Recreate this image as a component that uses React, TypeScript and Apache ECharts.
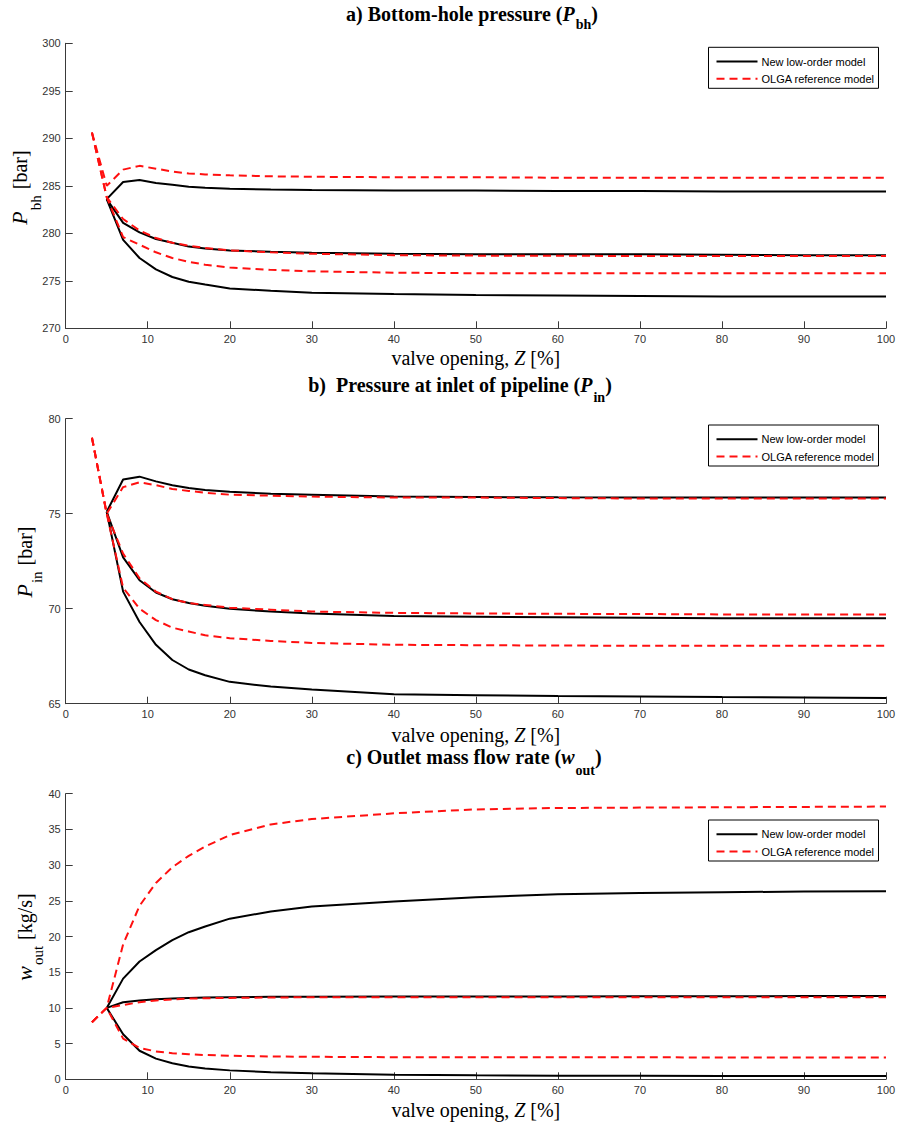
import React, { useEffect, useRef } from "react";
import * as echarts from "echarts";

// ---------- data ----------
const X_BLACK = [5, 7, 9, 11, 13, 15, 17, 20, 25, 30, 40, 50, 60, 70, 80, 90, 100];
const X_RED = [3.2, 5, 7, 9, 11, 13, 15, 17, 20, 25, 30, 40, 50, 60, 70, 80, 90, 100];

// a) bottom-hole pressure [bar]
const PBH_NEW_HIGH = [283.6, 285.4, 285.6, 285.3, 285.1, 284.9, 284.8, 284.7, 284.6, 284.55, 284.5, 284.5, 284.45, 284.45, 284.4, 284.4, 284.4];
const PBH_NEW_MID = [283.6, 281.1, 280.1, 279.4, 279.0, 278.6, 278.4, 278.2, 278.05, 277.95, 277.85, 277.8, 277.8, 277.8, 277.75, 277.7, 277.7];
const PBH_NEW_LOW = [283.6, 279.3, 277.4, 276.2, 275.4, 274.9, 274.6, 274.2, 273.95, 273.75, 273.6, 273.5, 273.45, 273.4, 273.35, 273.35, 273.35];
const PBH_OLGA_HIGH = [290.6, 285.0, 286.7, 287.1, 286.8, 286.5, 286.3, 286.2, 286.1, 286.0, 285.95, 285.9, 285.9, 285.85, 285.85, 285.85, 285.85, 285.85];
const PBH_OLGA_MID = [290.6, 283.8, 281.5, 280.3, 279.5, 279.0, 278.7, 278.45, 278.2, 278.0, 277.85, 277.7, 277.65, 277.65, 277.6, 277.6, 277.6, 277.6];
const PBH_OLGA_LOW = [290.6, 283.8, 279.6, 278.8, 278.0, 277.4, 277.0, 276.7, 276.4, 276.15, 276.0, 275.85, 275.8, 275.8, 275.8, 275.8, 275.8, 275.8];

// b) pressure at inlet of pipeline [bar]
const PIN_NEW_HIGH = [75.1, 76.8, 76.95, 76.7, 76.5, 76.35, 76.25, 76.15, 76.05, 76.0, 75.9, 75.88, 75.86, 75.85, 75.85, 75.85, 75.85];
const PIN_NEW_MID = [75.1, 72.7, 71.5, 70.85, 70.5, 70.3, 70.15, 70.0, 69.85, 69.75, 69.62, 69.58, 69.55, 69.52, 69.5, 69.5, 69.5];
const PIN_NEW_LOW = [75.1, 70.9, 69.3, 68.1, 67.3, 66.8, 66.5, 66.15, 65.9, 65.75, 65.5, 65.45, 65.4, 65.38, 65.35, 65.33, 65.3];
const PIN_OLGA_HIGH = [79.0, 75.0, 76.4, 76.65, 76.5, 76.3, 76.2, 76.1, 76.0, 75.95, 75.9, 75.85, 75.85, 75.82, 75.8, 75.8, 75.8, 75.8];
const PIN_OLGA_MID = [79.0, 75.0, 72.9, 71.6, 70.9, 70.5, 70.3, 70.2, 70.05, 69.95, 69.85, 69.78, 69.75, 69.73, 69.72, 69.7, 69.7, 69.7];
const PIN_OLGA_LOW = [79.0, 75.0, 71.1, 70.0, 69.4, 69.0, 68.8, 68.6, 68.45, 68.3, 68.2, 68.1, 68.08, 68.06, 68.05, 68.05, 68.05, 68.05];

// c) outlet mass flow rate [kg/s]
const WOUT_NEW_HIGH = [10.0, 14.1, 16.5, 18.1, 19.5, 20.6, 21.4, 22.5, 23.5, 24.2, 24.9, 25.5, 25.9, 26.1, 26.2, 26.3, 26.35];
const WOUT_NEW_MID = [10.0, 10.8, 11.05, 11.2, 11.3, 11.4, 11.45, 11.5, 11.55, 11.55, 11.6, 11.6, 11.6, 11.62, 11.63, 11.65, 11.65];
const WOUT_NEW_LOW = [10.0, 6.3, 4.0, 2.9, 2.25, 1.8, 1.5, 1.25, 1.0, 0.85, 0.65, 0.55, 0.5, 0.5, 0.45, 0.45, 0.45];
const WOUT_OLGA_HIGH = [8.0, 10.0, 18.9, 24.3, 27.5, 29.7, 31.3, 32.6, 34.2, 35.7, 36.45, 37.25, 37.8, 38.0, 38.05, 38.1, 38.15, 38.2];
const WOUT_OLGA_MID = [8.0, 10.0, 10.4, 10.8, 11.05, 11.2, 11.3, 11.35, 11.4, 11.45, 11.5, 11.5, 11.5, 11.5, 11.5, 11.5, 11.5, 11.5];
const WOUT_OLGA_LOW = [8.0, 10.0, 5.7, 4.4, 3.9, 3.65, 3.5, 3.4, 3.3, 3.2, 3.15, 3.1, 3.1, 3.1, 3.08, 3.06, 3.05, 3.05];

const X_TICKS = { min: 0, max: 100, interval: 10 };
const Y_AXES = [
  { min: 270, max: 300, interval: 5 },
  { min: 65, max: 80, interval: 5 },
  { min: 0, max: 40, interval: 5 },
];
const LEGEND_NAMES = ["New low-order model", "OLGA reference model"];

// ---------- layout / style ----------
const SERIF = "'Liberation Serif', 'Times New Roman', serif";
const SANS = "'Liberation Sans', Arial, sans-serif";
const GRIDS = [
  { left: 65.7, top: 43.3, width: 820.3, height: 285 },
  { left: 65.7, top: 418.7, width: 820.3, height: 285 },
  { left: 65.7, top: 793.7, width: 820.3, height: 285.6 },
];
const AXIS_COLOR = "#3a3a3a";
const RED = "#ff1010";

const F_B = `bold 20px ${SERIF}`;
const F_BI = `italic bold 20px ${SERIF}`;
const F_BS = `bold 14px ${SERIF}`;
const F_R = `20px ${SERIF}`;
const F_I = `italic 20px ${SERIF}`;
const F_YP = `italic 22px ${SERIF}`;
const F_YS = `15px ${SERIF}`;

const zip = (xs: number[], ys: number[]) => xs.map((x, i) => [x, ys[i]]);

type Piece = { text: string; font: string; dy?: number; gap?: number };

let measureCtx: CanvasRenderingContext2D | null = null;
function measure(text: string, font: string) {
  if (!measureCtx) measureCtx = document.createElement("canvas").getContext("2d");
  if (!measureCtx) return text.length * 10;
  measureCtx.font = font;
  return measureCtx.measureText(text).width;
}

function composed(pieces: Piece[], x: number, y: number, rotation = 0) {
  const widths = pieces.map((p) => measure(p.text, p.font));
  const total = pieces.reduce((s, p, i) => s + (p.gap || 0) + widths[i], 0);
  let cx = -total / 2;
  const children = pieces.map((p, i) => {
    cx += p.gap || 0;
    const el = {
      type: "text",
      x: cx,
      y: p.dy || 0,
      style: { text: p.text, font: p.font, fill: "#000", align: "left", verticalAlign: "middle" },
    };
    cx += widths[i];
    return el;
  });
  return { type: "group", x, y, rotation, children };
}

function App() {
  const ref = useRef<HTMLDivElement>(null);
  useEffect(() => {
    if (!ref.current) return;
    const chart = echarts.init(ref.current, null, { renderer: "svg" });

    const sets = [
      { black: [PBH_NEW_HIGH, PBH_NEW_MID, PBH_NEW_LOW], red: [PBH_OLGA_HIGH, PBH_OLGA_MID, PBH_OLGA_LOW] },
      { black: [PIN_NEW_HIGH, PIN_NEW_MID, PIN_NEW_LOW], red: [PIN_OLGA_HIGH, PIN_OLGA_MID, PIN_OLGA_LOW] },
      { black: [WOUT_NEW_HIGH, WOUT_NEW_MID, WOUT_NEW_LOW], red: [WOUT_OLGA_HIGH, WOUT_OLGA_MID, WOUT_OLGA_LOW] },
    ];

    const series: any[] = [];
    sets.forEach((s, gi) => {
      s.black.forEach((ys) =>
        series.push({
          type: "line",
          xAxisIndex: gi,
          yAxisIndex: gi,
          data: zip(X_BLACK, ys),
          showSymbol: false,
          symbol: "none",
          lineStyle: { color: "#000", width: 2 },
          z: 2,
        })
      );
      s.red.forEach((ys) =>
        series.push({
          type: "line",
          xAxisIndex: gi,
          yAxisIndex: gi,
          data: zip(X_RED, ys),
          showSymbol: false,
          symbol: "none",
          lineStyle: { color: RED, width: 2, type: [8, 5] },
          z: 3,
        })
      );
    });

    const axisCommon = {
      axisLine: { show: true, lineStyle: { color: AXIS_COLOR, width: 1 } },
      axisTick: { show: true, inside: true, length: 7, lineStyle: { color: AXIS_COLOR, width: 1 } },
      splitLine: { show: false },
    };

    const xAxis = GRIDS.map((_, i) => ({
      type: "value",
      gridIndex: i,
      ...X_TICKS,
      ...axisCommon,
      axisLabel: { fontFamily: SANS, fontSize: 11, color: "#333", margin: 5 },
    }));
    const yAxis = GRIDS.map((_, i) => ({
      type: "value",
      gridIndex: i,
      ...Y_AXES[i],
      ...axisCommon,
      axisLabel: { fontFamily: SANS, fontSize: 11, color: "#333", margin: 5 },
    }));

    const graphic: any[] = [];

    // titles
    graphic.push(
      composed(
        [
          { text: "a) Bottom-hole pressure (", font: F_B },
          { text: "P", font: F_BI },
          { text: "bh", font: F_BS, dy: 11, gap: 1 },
          { text: ")", font: F_B },
        ],
        472,
        13.5
      )
    );
    graphic.push(
      composed(
        [
          { text: "b)", font: F_B },
          { text: "Pressure at inlet of pipeline (", font: F_B, gap: 10 },
          { text: "P", font: F_BI },
          { text: "in", font: F_BS, dy: 13, gap: 1 },
          { text: ")", font: F_B },
        ],
        460,
        384.5
      )
    );
    graphic.push(
      composed(
        [
          { text: "c) Outlet mass flow rate (", font: F_B },
          { text: "w", font: F_BI },
          { text: "out", font: F_BS, dy: 14, gap: 1 },
          { text: ")", font: F_B },
        ],
        474,
        756.5
      )
    );

    // x-axis labels
    [358, 735, 1110].forEach((y, i) =>
      graphic.push(
        composed(
          [
            { text: "valve opening,", font: F_R },
            { text: "Z", font: F_I, gap: 5 },
            { text: "[%]", font: F_R, gap: 5 },
          ],
          GRIDS[i].left + GRIDS[i].width / 2,
          y
        )
      )
    );

    // y-axis labels (rotated, reading bottom to top)
    const yLabels = [
      { main: "P", sub: "bh", unit: "[bar]", x: 19.5, y: 187.5, dy: 16 },
      { main: "P", sub: "in", unit: "[bar]", x: 24.5, y: 562, dy: 12.5 },
      { main: "w", sub: "out", unit: "[kg/s]", x: 24.5, y: 937, dy: 13.5 },
    ];
    yLabels.forEach((l) =>
      graphic.push(
        composed(
          [
            { text: l.main, font: F_YP },
            { text: l.sub, font: F_YS, dy: l.dy, gap: 1 },
            { text: l.unit, font: F_R, gap: 6 },
          ],
          l.x,
          l.y,
          Math.PI / 2
        )
      )
    );

    // legends
    const legendTops = [47.3, 425, 820];
    legendTops.forEach((top) => {
      const left = 708.5;
      graphic.push({
        type: "group",
        children: [
          { type: "rect", shape: { x: left, y: top, width: 170, height: 41 }, style: { fill: "#fff", stroke: "#000", lineWidth: 1 }, z: 10 },
          { type: "line", shape: { x1: left + 8, y1: top + 14.3, x2: left + 49, y2: top + 14.3 }, style: { stroke: "#000", lineWidth: 2 }, z: 11 },
          { type: "line", shape: { x1: left + 8, y1: top + 31.5, x2: left + 49, y2: top + 31.5 }, style: { stroke: RED, lineWidth: 2, lineDash: [8, 5] }, z: 11 },
          { type: "text", x: left + 53, y: top + 14.3, style: { text: LEGEND_NAMES[0], font: `11px ${SANS}`, fill: "#000", align: "left", verticalAlign: "middle" }, z: 11 },
          { type: "text", x: left + 53, y: top + 31.5, style: { text: LEGEND_NAMES[1], font: `11px ${SANS}`, fill: "#000", align: "left", verticalAlign: "middle" }, z: 11 },
        ],
      });
    });

    chart.setOption({
      animation: false,
      backgroundColor: "#fff",
      grid: GRIDS.map((g) => ({ ...g, containLabel: false })),
      xAxis,
      yAxis,
      series,
      graphic,
    });
    return () => chart.dispose();
  }, []);
  return (
    <div
      ref={ref}
      style={{ position: "absolute", left: 0, top: 0, width: 901, height: 1126, background: "#fff" }}
    />
  );
}

export default App;
